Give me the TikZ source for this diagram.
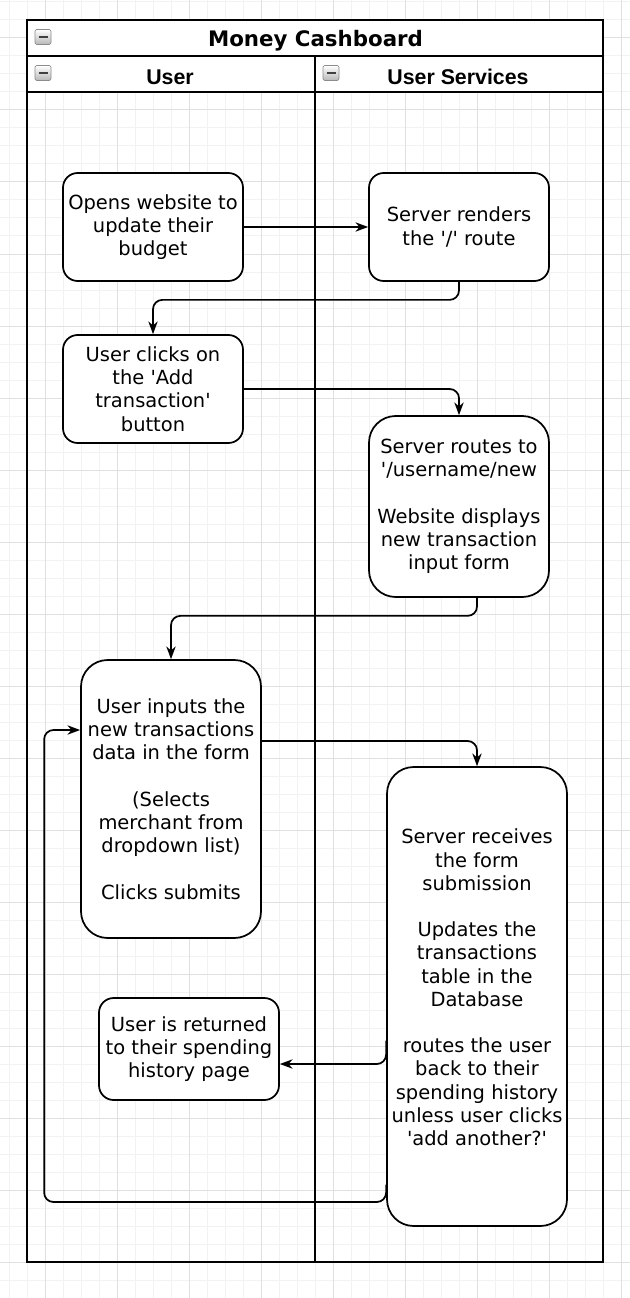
\documentclass[tikz,border=0pt]{standalone}
\usepackage{fontspec}
\setmainfont{DejaVu Sans}
\newfontfamily\lanefont{Liberation Sans}
\usetikzlibrary{arrows.meta,
	calc,
	positioning}

\newcommand{\bodysize}{\fontsize{14.6pt}{17.4pt}\selectfont}
\newcommand{\sq}{\textquotesingle}

\tikzset{
	foldmark/.pic={
		\shade[top color=white,bottom color=black!28,draw=black!45,rounded corners=1.5pt,line width=0.5pt] (-8,-7.5) rectangle (8,7.5);
		\draw[line width=2pt,black!75] (-4.5,0) -- (4.5,0);
	}
}

\begin{document}
\begin{tikzpicture}[x=0.75pt,y=-0.75pt,
	gridminor/.style={draw=black!5,line width=0.75pt},
	gridmajor/.style={draw=black!12,line width=0.75pt},
	lane/.style={line width=1.5pt},
	stepbox/.style={draw,fill=white,line width=1.3pt,rounded corners=11pt,minimum width=135pt,inner sep=0pt,align=center,font=\bodysize},
	tallbox/.style={stepbox,rounded corners=20pt},
	flow/.style={line width=1.3pt,rounded corners=7pt,-{Stealth[length=9.5pt,width=7pt,inset=3pt]}}]
	\useasboundingbox (0,0) rectangle (630,1298);
	% background grid
	\foreach \gx in {9,27,...,630} {
		\draw[gridminor] (\gx,0) -- (\gx,1298);
	}
	\foreach \gy in {2,20,...,1298} {
		\draw[gridminor] (0,\gy) -- (630,\gy);
	}
	\foreach \gx in {45,117,...,630} {
		\draw[gridmajor] (\gx,0) -- (\gx,1298);
	}
	\foreach \gy in {38,110,...,1298} {
		\draw[gridmajor] (0,\gy) -- (630,\gy);
	}
	% swimlanes
	\fill[white] (27,20) rectangle (603,92);
	\draw[lane] (27,20) rectangle (603,1262);
	\draw[lane] (27,56) -- (603,56);
	\draw[lane] (27,92) -- (603,92);
	\draw[lane] (315,56) -- (315,1262);
	\pic at (43,37) {foldmark};
	\pic at (43,73) {foldmark};
	\pic at (331,73) {foldmark};
	\node[font=\bfseries\fontsize{16pt}{18pt}\selectfont] (title) at (315.5,41) {Money Cashboard};
	\node[font=\lanefont\bfseries\fontsize{16pt}{19pt}\selectfont] (userlane) at (170,77) {User};
	\node[font=\lanefont\bfseries\fontsize{16pt}{19pt}\selectfont] (servicelane) at (458,77) {User Services};

	% steps
	\node[stepbox,minimum height=81pt] (opens) at (153,227) {Opens website to\\update their\\budget};
	\node[stepbox,minimum height=81pt] (render) at (459,227) {Server renders\\the \sq/\sq{} route};
	\node[stepbox,minimum height=81pt] (clicks) at (153,389) {User clicks on\\the \sq Add\\transaction\sq\\button};
	\node[tallbox,minimum height=135.75pt] (routes) at (459,506.5) {Server routes to\\\sq/username/new\\[17.4pt]Website displays\\new transaction\\input form};
	\node[tallbox,minimum height=208.5pt] (inputs) at (171,799) {User inputs the\\new transactions\\data in the form\\[17.4pt](Selects\\merchant from\\dropdown list)\\[17.4pt]Clicks submits};
	\node[tallbox,minimum height=344.25pt] (receives) at (477,996.5) {};
	\node[align=center,font=\bodysize,inner sep=0pt] (receivestext) at ($(receives)+(0,-9)$) {Server receives\\the form\\submission\\[17.4pt]Updates the\\transactions\\table in the\\Database\\[17.4pt]routes the user\\back to their\\spending history\\unless user clicks\\\sq add another?\sq};
	\node[stepbox,minimum height=76.5pt] (returned) at (189,1049) {User is returned\\to their spending\\history page};

	% connectors
	\draw[flow] (opens) -- (render);
	\draw[flow] (render.south) -- ++(0,18) -| (clicks.north);
	\draw[flow] (clicks.east) -| (routes.north);
	\draw[flow] ($(routes.south)+(18,0)$) -- ++(0,18) -| (inputs.north);
	\draw[flow] ($(inputs.east)+(0,-58)$) -| (receives.north);
	\draw[flow] ($(receives.west)+(0,44)$) |- ($(returned.east)+(0,15)$);
	\draw[flow] ($(receives.west)+(0,188)$) |- ($(inputs.west)+(-36,403)$) |- ($(inputs.west)+(0,-69)$);
\end{tikzpicture}
\end{document}
